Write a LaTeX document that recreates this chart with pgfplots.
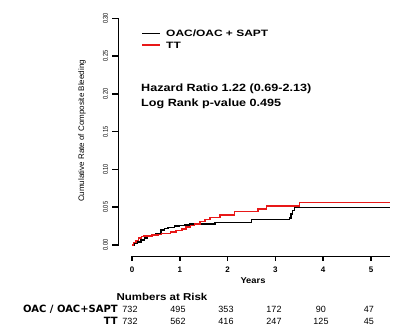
\documentclass[border=0pt]{standalone}
\usepackage{pgfplots}
\pgfplotsset{compat=1.18}
\usepackage{fontspec}
\usepackage{graphicx}
\setmainfont{Liberation Sans}
\newfontfamily\dejavu{DejaVu Sans}
\definecolor{kmred}{RGB}{232,24,24}
\definecolor{kmblack}{RGB}{0,0,0}
\begin{document}
\begin{tikzpicture}
\useasboundingbox (0pt,0pt) rectangle (397pt,331pt);
% axis lines and ticks (drawn first)
\fill[black] (117.65pt,85.25pt) rectangle (119.35pt,313.35pt);
\fill[black] (112pt,85.25pt) rectangle (118.5pt,86.75pt);
\fill[black] (112pt,123.02pt) rectangle (118.5pt,124.52pt);
\fill[black] (112pt,160.78pt) rectangle (118.5pt,162.28pt);
\fill[black] (112pt,198.55pt) rectangle (118.5pt,200.05pt);
\fill[black] (112pt,236.32pt) rectangle (118.5pt,237.82pt);
\fill[black] (112pt,274.08pt) rectangle (118.5pt,275.58pt);
\fill[black] (112pt,311.85pt) rectangle (118.5pt,313.35pt);
\fill[black] (131.25pt,73.65pt) rectangle (390.1pt,75.35pt);
\fill[black] (131.25pt,69.5pt) rectangle (132.75pt,74.5pt);
\fill[black] (179.05pt,69.5pt) rectangle (180.55pt,74.5pt);
\fill[black] (226.85pt,69.5pt) rectangle (228.35pt,74.5pt);
\fill[black] (274.65pt,69.5pt) rectangle (276.15pt,74.5pt);
\fill[black] (322.45pt,69.5pt) rectangle (323.95pt,74.5pt);
\fill[black] (370.25pt,69.5pt) rectangle (371.75pt,74.5pt);
% legend lines
\fill[black] (142pt,297.05pt) rectangle (160pt,298.35pt);
\fill[kmred] (142pt,285.35pt) rectangle (160pt,286.65pt);
% y axis (tick labels)
\begin{axis}[
  at={(118pt,86pt)}, anchor=south west,
  scale only axis, width=10pt, height=226.6pt,
  xmin=0, xmax=1, ymin=0, ymax=0.30,
  axis y line=left, axis x line=none,
  axis line style={-, draw=none},
  ytick={0,0.05,0.10,0.15,0.20,0.25,0.30},
  tick style={draw=none},
  tick align=outside, major tick length=6.5pt,
  /pgf/number format/assume math mode=true,
  yticklabel={\scalebox{0.8}[1]{\pgfmathprintnumber[fixed,fixed zerofill,precision=2]{\tick}}},
  yticklabel style={rotate=90, anchor=south, font=\fontsize{7}{8}\selectfont},
  clip=false,
]
\end{axis}
% x axis (tick labels)
\begin{axis}[
  at={(132pt,75pt)}, anchor=south west,
  scale only axis, width=258.1pt, height=10pt,
  xmin=0, xmax=5.4, ymin=0, ymax=1,
  axis x line=bottom, axis y line=none,
  axis line style={-, draw=none},
  xtick={0,1,2,3,4,5},
  tick style={draw=none},
  tick align=outside, major tick length=4.5pt,
  /pgf/number format/assume math mode=true,
  xticklabel style={font=\bfseries\fontsize{8}{9}\selectfont, yshift=-3pt},
  clip=false,
]
\end{axis}
% data
\begin{axis}[
  at={(132pt,86pt)}, anchor=south west,
  scale only axis, width=258.1pt, height=226.6pt,
  xmin=0, xmax=5.4, ymin=0, ymax=0.30,
  hide axis,
  clip=false,
]
\addplot[const plot, color=kmblack, line width=1.4pt] coordinates {
(0,0) (0.05,0.002) (0.12,0.004) (0.19,0.0066) (0.26,0.009) (0.33,0.011)
(0.42,0.013) (0.50,0.0155) (0.61,0.020) (0.68,0.022) (0.75,0.0235)
(0.89,0.025) (1.00,0.026) (1.10,0.0265) (1.20,0.028) (1.74,0.030)
(2.50,0.0335) (3.30,0.036) (3.33,0.041) (3.36,0.046) (3.40,0.0497) (5.40,0.0497)};
\addplot[const plot, color=kmred, line width=1.4pt] coordinates {
(0,0) (0.03,0.003) (0.08,0.006) (0.13,0.009) (0.20,0.011) (0.25,0.012)
(0.42,0.013) (0.54,0.014) (0.62,0.0155) (0.80,0.017) (0.92,0.019)
(1.05,0.021) (1.13,0.024) (1.22,0.026) (1.31,0.028) (1.42,0.031)
(1.53,0.034) (1.63,0.0367) (1.84,0.0398) (2.15,0.044) (2.64,0.0475)
(2.82,0.0515) (3.50,0.0566) (5.40,0.0566)};
\end{axis}
\begin{scope}[x=1pt,y=1pt]
\node[anchor=west, inner sep=0pt, font=\bfseries\fontsize{9.2}{10}\selectfont] at (166,297.7) {\scalebox{1.3}[1]{OAC/OAC + SAPT}};
\node[anchor=west, inner sep=0pt, font=\bfseries\fontsize{9.2}{10}\selectfont] at (166,286) {\scalebox{1.3}[1]{TT}};
\node[rotate=90, font=\fontsize{8}{9}\selectfont] at (82,200) {Cumulative Rate of Composite Bleeding};
\node[anchor=west, align=left, inner sep=0pt, font=\bfseries\fontsize{10.5}{15}\selectfont] at (141,234.5)
  {\scalebox{1.2}[1]{Hazard Ratio 1.22 (0.69-2.13)}\\\scalebox{1.2}[1]{Log Rank p-value 0.495}};
\node[font=\bfseries\fontsize{8.5}{10}\selectfont] at (253,50) {\scalebox{1.1}[1]{Years}};
\node[font=\bfseries\fontsize{10}{12}\selectfont] at (162,34) {\scalebox{1.15}[1]{Numbers at Risk}};
\node[anchor=east, inner sep=0pt, font=\dejavu\bfseries\fontsize{10}{12}\selectfont] at (118,22) {OAC / OAC+SAPT};
\node[anchor=east, inner sep=0pt, font=\dejavu\bfseries\fontsize{10}{12}\selectfont] at (118,10) {TT};
\foreach \x/\a/\b in {130/732/732, 178/495/562, 226/353/416, 274/172/247, 321/90/125, 369/47/45} {
  \node[font=\fontsize{9}{10}\selectfont] at (\x,22) {\a};
  \node[font=\fontsize{9}{10}\selectfont] at (\x,10) {\b};
}
\end{scope}
\end{tikzpicture}
\end{document}
